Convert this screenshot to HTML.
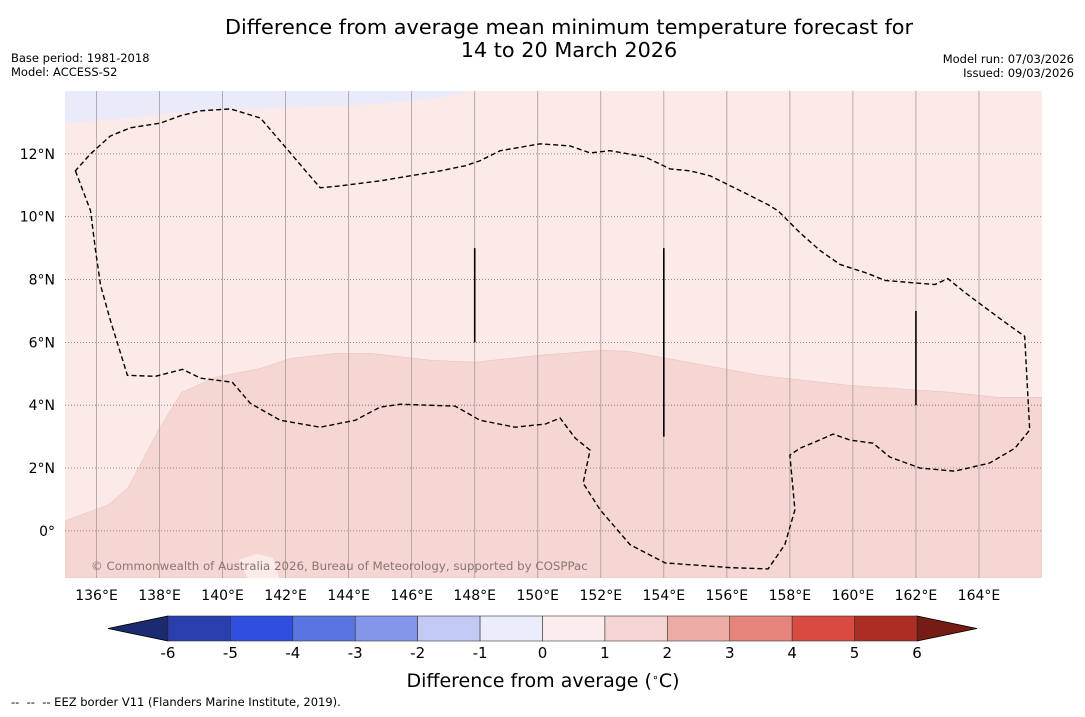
<!DOCTYPE html>
<html><head><meta charset="utf-8">
<style>
body{margin:0;background:#fff;width:1085px;height:713px;overflow:hidden;font-family:"DejaVu Sans","Liberation Sans",sans-serif;}
svg text{font-family:"DejaVu Sans","Liberation Sans",sans-serif;}
</style></head>
<body>
<svg id="chart" width="1085" height="713" xmlns="http://www.w3.org/2000/svg">
<text x="569" y="34" font-size="20.8" text-anchor="middle">Difference from average mean minimum temperature forecast for</text>
<text x="569" y="57" font-size="20.8" text-anchor="middle">14 to 20 March 2026</text>
<text x="11" y="62" font-size="11.5">Base period: 1981-2018</text>
<text x="11" y="76" font-size="11.5">Model: ACCESS-S2</text>
<text x="1074" y="63" font-size="11.5" text-anchor="end">Model run: 07/03/2026</text>
<text x="1074" y="77" font-size="11.5" text-anchor="end">Issued: 09/03/2026</text>
<defs><clipPath id="mapclip"><rect x="65" y="91" width="977" height="487"/></clipPath></defs>
<g id="map" clip-path="url(#mapclip)"></g>
<g id="axes"></g>
<g id="cbar"></g>
<text x="543" y="687" font-size="19" text-anchor="middle">Difference from average (<tspan baseline-shift="super" font-size="11">∘</tspan>C)</text>
<text x="11" y="706" font-size="11.5" xml:space="preserve">--  --  -- EEZ border V11 (Flanders Marine Institute, 2019).</text>
</svg>
<script>
// ---- data ----
const lonTicks=[136,138,140,142,144,146,148,150,152,154,156,158,160,162,164];
const latTicks=[0,2,4,6,8,10,12];
const cbarLevels=[-6,-5,-4,-3,-2,-1,0,1,2,3,4,5,6];
const cbarColors=["#2a3fad","#2f4fe0","#5a75e2","#8496ea","#c2c9f3","#eaedfb","#fceceb","#f5d5d3","#ebaca6","#e6847c","#d94b40","#ad2d25"];
const lowColor="#1c2a70", highColor="#761c15";
const boundLon=[135,136.38,137.0,137.96,138.7,139.78,141.2,142.16,143.6,144.7,146.6,148,150.06,152.1,152.9,155.15,157.05,159.9,163.1,164.6,166];
const boundLat=[0.32,0.83,1.37,3.2,4.41,4.89,5.17,5.49,5.65,5.65,5.43,5.37,5.59,5.75,5.71,5.3,4.95,4.63,4.41,4.25,4.25];
const coolLon=[135,137.08,139.3,142.5,145.0,146.6,148.0];
const coolLat=[12.98,13.14,13.37,13.49,13.59,13.75,14.0];
const patchLon=[140.5,141.1,141.6,141.8,140.8];
const patchLat=[-0.92,-0.73,-0.86,-1.5,-1.5];
const eezLon=[135.33,135.81,135.97,136.13,136.44,136.98,137.87,138.73,139.30,140.31,140.88,141.83,143.10,144.21,145.00,145.64,147.38,148.17,149.28,150.24,150.71,151.19,151.66,151.44,151.98,152.93,154.04,156.10,157.31,157.84,158.16,158.00,158.32,158.80,159.37,159.91,160.64,161.17,162.13,163.23,164.34,165.14,165.61,165.45,164.66,163.55,163.01,162.60,161.87,161.02,160.48,159.59,158.96,158.32,157.62,157.31,156.42,155.47,154.83,154.20,153.41,152.30,151.66,151.03,150.08,148.81,148.17,147.70,146.91,145.00,143.74,143.10,142.63,142.15,141.20,140.25,139.30,138.66,138.03,137.08,136.44,135.81];
const eezLat=[11.46,10.19,8.92,7.81,6.70,4.95,4.92,5.14,4.86,4.73,4.06,3.52,3.30,3.52,3.94,4.03,3.97,3.52,3.30,3.40,3.59,2.95,2.57,1.52,0.67,-0.44,-1.02,-1.17,-1.21,-0.44,0.67,2.41,2.63,2.83,3.08,2.89,2.79,2.35,2.00,1.90,2.16,2.63,3.21,6.19,6.76,7.59,8.03,7.84,7.90,7.97,8.19,8.48,8.92,9.49,10.19,10.38,10.83,11.30,11.46,11.52,11.90,12.10,12.03,12.25,12.32,12.10,11.78,11.62,11.46,11.14,10.98,10.92,11.46,12.03,13.14,13.43,13.37,13.21,12.98,12.83,12.57,12.00];
const segLon=[148,154,162];
const segLat0=[9,9,7];
const segLat1=[6,3,4];

// ---- scales ----
const x0=65,x1=1042,y0=91,y1=578,lonMin=135,lonMax=166,latMin=-1.5,latMax=14;
const X=lon=>x0+(lon-lonMin)/(lonMax-lonMin)*(x1-x0);
const Y=lat=>y1-(lat-latMin)/(latMax-latMin)*(y1-y0);
const NS="http://www.w3.org/2000/svg";
function mk(tag,attrs,parent){const e=document.createElementNS(NS,tag);for(const k in attrs)e.setAttribute(k,attrs[k]);parent.appendChild(e);return e;}
const map=document.getElementById('map'),axes=document.getElementById('axes'),cbar=document.getElementById('cbar');

let bg=mk('rect',{x:x0,y:y0,width:x1-x0,height:y1-y0,fill:"#fbeae8"},map);


let pts=boundLon.map((l,i)=>X(l)+','+Y(boundLat[i])).join(' ')+' '+X(lonMax)+','+Y(latMin)+' '+X(lonMin)+','+Y(latMin);
let warm=mk('polygon',{points:pts,fill:"#f5d6d3",stroke:"#e8c0bc","stroke-width":0.5},map);


pts=coolLon.map((l,i)=>X(l)+','+Y(coolLat[i])).join(' ')+' '+X(coolLon[coolLon.length-1])+','+Y(latMax)+' '+X(lonMin)+','+Y(latMax);
let cool=mk('polygon',{points:pts,fill:"#e9ebfa"},map);


pts=patchLon.map((l,i)=>X(l)+','+Y(patchLat[i])).join(' ');
let patch=mk('polygon',{points:pts,fill:"#fbeae8"},map);



lonTicks.forEach(l=>{
  const g=mk('line',{x1:X(l),x2:X(l),y1:y0,y2:y1,stroke:"#a89a9a","stroke-width":0.8},map);
  
  
});
latTicks.forEach(l=>{
  const g=mk('line',{x1:x0,x2:x1,y1:Y(l),y2:Y(l),stroke:"#7a6a6a","stroke-width":0.8,"stroke-dasharray":"1,2"},map);
  
  
});

pts=eezLon.map((l,i)=>X(l)+','+Y(eezLat[i])).join(' ');
let eez=mk('polygon',{points:pts,fill:"none",stroke:"#000","stroke-width":1.4,"stroke-dasharray":"5,3"},map);


segLon.forEach((l,i)=>{
  const s=mk('line',{x1:X(l),x2:X(l),y1:Y(segLat0[i]),y2:Y(segLat1[i]),stroke:"#000","stroke-width":1.6},map);
  
  
});

let cp=mk('text',{x:91,y:570,"font-size":11.8,fill:"#8a7575"},map);
cp.textContent="© Commonwealth of Australia 2026, Bureau of Meteorology, supported by COSPPac";



lonTicks.forEach(l=>{
  const t=mk('text',{x:X(l),y:600,"font-size":14,"text-anchor":"middle"},axes);
  t.textContent=l+"°E";
  
  
});
latTicks.forEach(l=>{
  const t=mk('text',{x:55,y:Y(l)+5,"font-size":14,"text-anchor":"end"},axes);
  t.textContent=l===0?"0°":l+"°N";
  
  
});

const cbX0=168,cbX1=917,cbY=616,cbH=25;
const C=v=>cbX0+(v-cbarLevels[0])/(cbarLevels[cbarLevels.length-1]-cbarLevels[0])*(cbX1-cbX0);
let tl=mk('polygon',{points:`${cbX0},${cbY} ${cbX0},${cbY+cbH} 108,${cbY+cbH/2}`,fill:lowColor,stroke:"#000","stroke-width":0.8},cbar);


let tr=mk('polygon',{points:`${cbX1},${cbY} ${cbX1},${cbY+cbH} 977,${cbY+cbH/2}`,fill:highColor,stroke:"#000","stroke-width":0.8},cbar);


cbarColors.forEach((c,i)=>{
  const r=mk('rect',{x:C(cbarLevels[i]),y:cbY,width:C(cbarLevels[i+1])-C(cbarLevels[i]),height:cbH,fill:c,stroke:"#333","stroke-width":0.6},cbar);
  
  
});
cbarLevels.forEach(v=>{
  const t=mk('text',{x:C(v),y:658,"font-size":15,"text-anchor":"middle"},cbar);
  t.textContent=String(v);
  
  
});
</script>
</body></html>
